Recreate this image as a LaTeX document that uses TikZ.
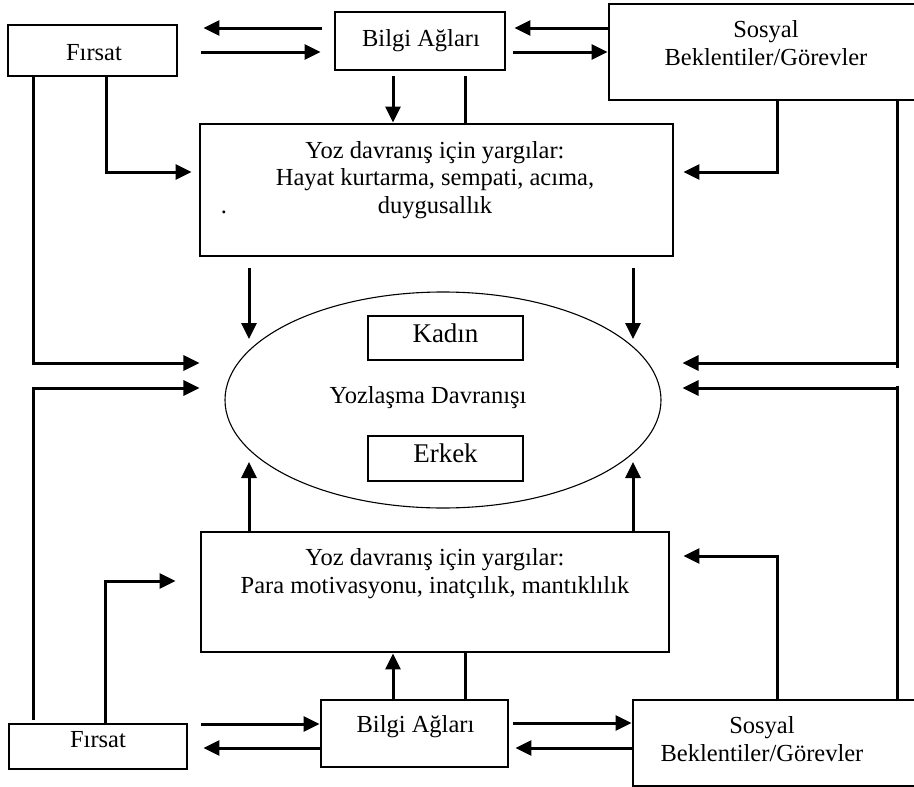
\documentclass[tikz,border=0pt]{standalone}
\usepackage{fontspec}
\setmainfont{Liberation Serif}
\usetikzlibrary{arrows.meta,calc,shapes.geometric}
\begin{document}
\begin{tikzpicture}[x=1pt,y=-1pt,
  box/.style={draw,line width=2.9pt,inner sep=0pt,minimum width=#1},
  lbl/.style={anchor=base,inner sep=0pt,font=\fontsize{24.5}{28}\selectfont},
  biglbl/.style={anchor=base,inner sep=0pt,font=\fontsize{27}{30}\selectfont},
  conn/.style={line width=3pt},
  arr/.style={line width=3pt,-{Triangle[length=16pt,width=15pt]}},
]
\useasboundingbox (0,0) rectangle (914,787);
% ---------------- boxes ----------------
\node[box=169pt,minimum height=51pt] (firsatT) at (92.5,50.5) {};
\node[box=170pt,minimum height=58pt] (bilgiT) at (420,41) {};
\node[box=320pt,minimum height=96pt] (sosyalT) at (769,52) {};
\node[box=473pt,minimum height=132pt] (yargT) at (436.5,190) {};
\node[draw,ellipse,line width=1.1pt,minimum width=436pt,minimum height=216pt,inner sep=0pt] (ell) at (443,400) {};
\node[box=155pt,minimum height=44pt] (kadin) at (445.5,338) {};
\node[box=155pt,minimum height=45pt] (erkek) at (445.5,458.5) {};
\node[box=468pt,minimum height=120pt] (yargB) at (435,592) {};
\node[box=178pt,minimum height=45pt] (firsatB) at (98,746.5) {};
\node[box=187pt,minimum height=67pt] (bilgiB) at (414.5,733.5) {};
\node[box=296pt,minimum height=86pt] (sosyalB) at (781,743) {};
% ---------------- texts ----------------
\node[lbl] (tFirsatT) at (94,60) {Fırsat};
\node[lbl] (tBilgiT) at (421,46) {Bilgi Ağları};
\node[lbl] (tSosT1) at (766,37) {Sosyal};
\node[lbl] (tSosT2) at (766,65) {Beklentiler/Görevler};
\node[lbl] (tYT1) at (435,158) {Yoz davranış için yargılar:};
\node[lbl] (tYT2) at (435,185) {Hayat kurtarma, sempati, acıma,};
\node[lbl] (tYT3) at (435,213) {duygusallık};
\node[lbl] (tDot) at (224,213) {.};
\node[biglbl] (tKadin) at (445.5,342) {Kadın};
\node[lbl] (tYoz) at (428,403) {Yozlaşma Davranışı};
\node[biglbl] (tErkek) at (445.5,462) {Erkek};
\node[lbl] (tYB1) at (435,565) {Yoz davranış için yargılar:};
\node[lbl] (tYB2) at (435,593) {Para motivasyonu, inatçılık, mantıklılık};
\node[lbl] (tFirsatB) at (98,747) {Fırsat};
\node[lbl] (tBilgiB) at (415.5,732) {Bilgi Ağları};
\node[lbl] (tSosB1) at (762,733) {Sosyal};
\node[lbl] (tSosB2) at (762,761) {Beklentiler/Görevler};
% ---------------- connectors: top ----------------
\draw[arr] ([xshift=-12pt]bilgiT.west |- 0,28) -- ([xshift=25pt]firsatT.east |- 0,28);
\draw[arr] ([xshift=23pt]firsatT.east |- 0,52) -- ([xshift=-13pt]bilgiT.west |- 0,52);
\draw[arr] (sosyalT.west |- 0,28) -- ([xshift=8pt]bilgiT.east |- 0,28);
\draw[arr] ([xshift=7pt]bilgiT.east |- 0,52) -- (sosyalT.west |- 0,52);
\draw[arr] ([yshift=-5pt]bilgiT.south -| 393,0) -- (yargT.north -| 393,0);
\draw[conn] ([yshift=-5pt]bilgiT.south -| 465,0) -- (yargT.north -| 465,0);
\draw[arr] (firsatT.south -| 33,0) -- (33,363) -- ([xshift=-25pt]ell.west |- 0,363);
\draw[arr] (firsatT.south -| 106,0) -- (106,172) -- ([xshift=-7pt]yargT.west |- 0,172);
\draw[arr] (sosyalT.south -| 777,0) -- (777,172) -- ([xshift=9pt]yargT.east |- 0,172);
\draw[conn] (sosyalT.south -| 897,0) -- (897,368);
\draw[arr] (897,363) -- ([xshift=21pt]ell.east |- 0,363);
\draw[arr] ([yshift=-11pt]yargT.south -| 249,0) -- (249,339);
\draw[arr] ([yshift=-11pt]yargT.south -| 633,0) -- (633,339);
% ---------------- connectors: bottom ----------------
\draw[arr] ([yshift=3pt]firsatB.north -| 33,0) -- (33,388) -- ([xshift=-25pt]ell.west |- 0,388);
\draw[arr] (firsatB.north -| 105,0) -- (105,581) -- ([xshift=-24pt]yargB.west |- 0,581);
\draw[arr] ([xshift=13pt]firsatB.east |- 0,724) -- (bilgiB.west |- 0,724);
\draw[arr] (bilgiB.west |- 0,748) -- ([xshift=15pt]firsatB.east |- 0,748);
\draw[arr] (bilgiB.north -| 393,0) -- (yargB.south -| 393,0);
\draw[conn] (yargB.south -| 465,0) -- (bilgiB.north -| 465,0);
\draw[arr] ([xshift=4pt]bilgiB.east |- 0,723) -- (sosyalB.west |- 0,723);
\draw[arr] (sosyalB.west |- 0,748) -- ([xshift=6pt]bilgiB.east |- 0,748);
\draw[arr] (sosyalB.north -| 777,0) -- (777,556) -- ([xshift=13pt]yargB.east |- 0,556);
\draw[conn] (sosyalB.north -| 897,0) -- (897,386);
\draw[arr] (897,388) -- ([xshift=21pt]ell.east |- 0,388);
\draw[arr] (yargB.north -| 249,0) -- (249,462);
\draw[arr] (yargB.north -| 633,0) -- (633,462);
\end{tikzpicture}
\end{document}
